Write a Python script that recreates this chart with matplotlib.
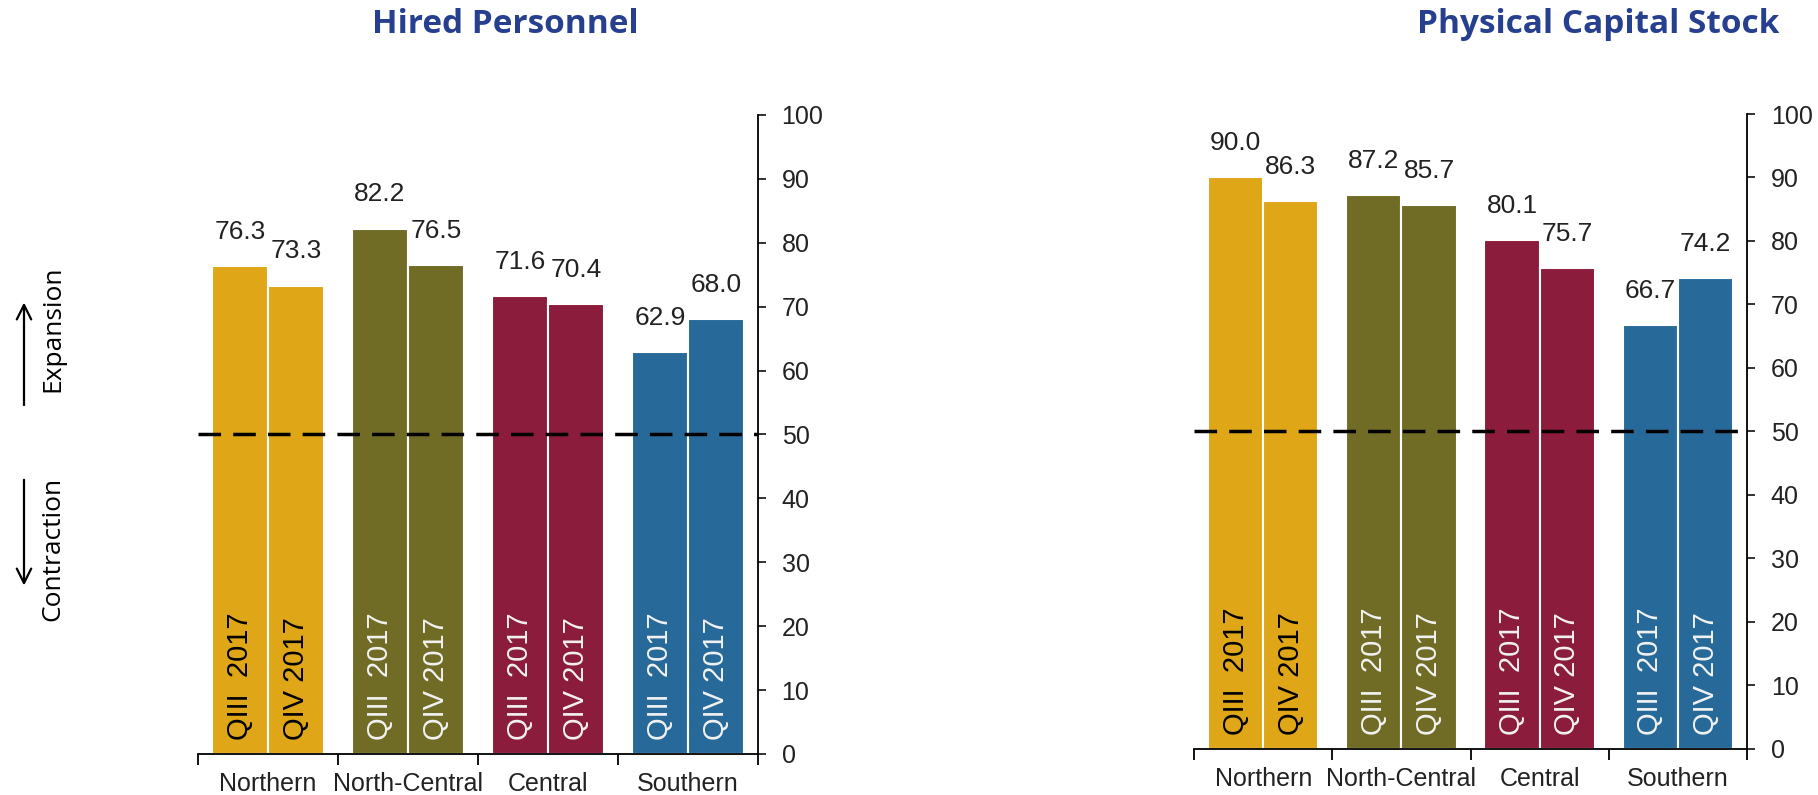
import numpy as np
import matplotlib.pyplot as plt

# data
regions = ["Northern", "North-Central", "Central", "Southern"]
quarters = ["QIII  2017", "QIV 2017"]
hired_q3 = [76.3, 82.2, 71.6, 62.9]
hired_q4 = [73.3, 76.5, 70.4, 68.0]
capital_q3 = [90.0, 87.2, 80.1, 66.7]
capital_q4 = [86.3, 85.7, 75.7, 74.2]
colors = ["#DFA617", "#706C25", "#8C1C3B", "#276A99"]
inner_text_colors = ["black", "#F2F2F2", "#F2F2F2", "#F2F2F2"]

plt.rcParams['font.family'] = ['Liberation Sans', 'DejaVu Sans']

fig = plt.figure(figsize=(18.18, 7.95), dpi=100)
ax1 = fig.add_axes([0.1089, 0.0516, 0.308, 0.8038])
ax2 = fig.add_axes([0.6568, 0.0579, 0.3042, 0.7987])


def draw_panel(ax, q3, q4):
    x = np.arange(len(regions))
    w = 0.4
    for i in range(len(regions)):
        for j, (vals, off) in enumerate([(q3, -w / 2), (q4, w / 2)]):
            ax.bar(x[i] + off, vals[i], width=w, color=colors[i],
                   edgecolor="white", linewidth=1.5, zorder=2)
            ax.annotate(f"{vals[i]:.1f}", (x[i] + off, vals[i]),
                        xytext=(0, 16), textcoords="offset points",
                        ha="center", va="bottom", fontsize=19, color="#222222")
            ax.text(x[i] + off, 2.2, quarters[j], rotation=90, ha="center",
                    va="bottom", fontsize=21, color=inner_text_colors[i], zorder=3)

    ax.axhline(50, color="black", lw=2.5, linestyle=(0, (6.5, 3.5)), zorder=4)

    ax.set_xlim(-0.5, len(regions) - 0.5)
    ax.set_ylim(0, 100)

    # y axis on the right
    ax.yaxis.tick_right()
    ax.set_yticks(np.arange(0, 101, 10))
    ax.tick_params(axis="y", direction="out", length=6, width=1.3, pad=11,
                   labelsize=18, colors="#222222")

    # group separators as major ticks, region names as minor tick labels
    ax.set_xticks(np.arange(-0.5, len(regions), 1))
    ax.set_xticklabels([])
    ax.set_xticks(x, minor=True)
    ax.set_xticklabels(regions, minor=True)
    ax.tick_params(axis="x", which="major", direction="out", length=8, width=1.3)
    ax.tick_params(axis="x", which="minor", length=0, pad=13, labelsize=18,
                   colors="#222222")

    for s in ["top", "left"]:
        ax.spines[s].set_visible(False)
    ax.spines["right"].set_linewidth(1.3)
    ax.spines["bottom"].set_linewidth(1.3)


draw_panel(ax1, hired_q3, hired_q4)
draw_panel(ax2, capital_q3, capital_q4)

title_color = "#26408F"
fig.text(0.278, 0.969, "Hired Personnel", ha="center", va="center",
         fontsize=24, fontweight="bold", color=title_color, family="Open Sans")
fig.text(0.879, 0.969, "Physical Capital Stock", ha="center", va="center",
         fontsize=24, fontweight="bold", color=title_color, family="Open Sans")

# expansion / contraction arrows
fig.add_artist(plt.Annotation("", xy=(0.0132, 0.623), xytext=(0.0132, 0.487),
                              xycoords="figure fraction", textcoords="figure fraction",
                              arrowprops=dict(arrowstyle="->", lw=1.6, color="black",
                                              mutation_scale=26)))
fig.add_artist(plt.Annotation("", xy=(0.0132, 0.26), xytext=(0.0132, 0.40),
                              xycoords="figure fraction", textcoords="figure fraction",
                              arrowprops=dict(arrowstyle="->", lw=1.6, color="black",
                                              mutation_scale=26)))
fig.text(0.029, 0.586, "Expansion", rotation=90, ha="center", va="center",
         fontsize=19, family="Open Sans")
fig.text(0.029, 0.309, "Contraction", rotation=90, ha="center", va="center",
         fontsize=19, family="Open Sans")

fig.savefig("out.png", dpi=100)
